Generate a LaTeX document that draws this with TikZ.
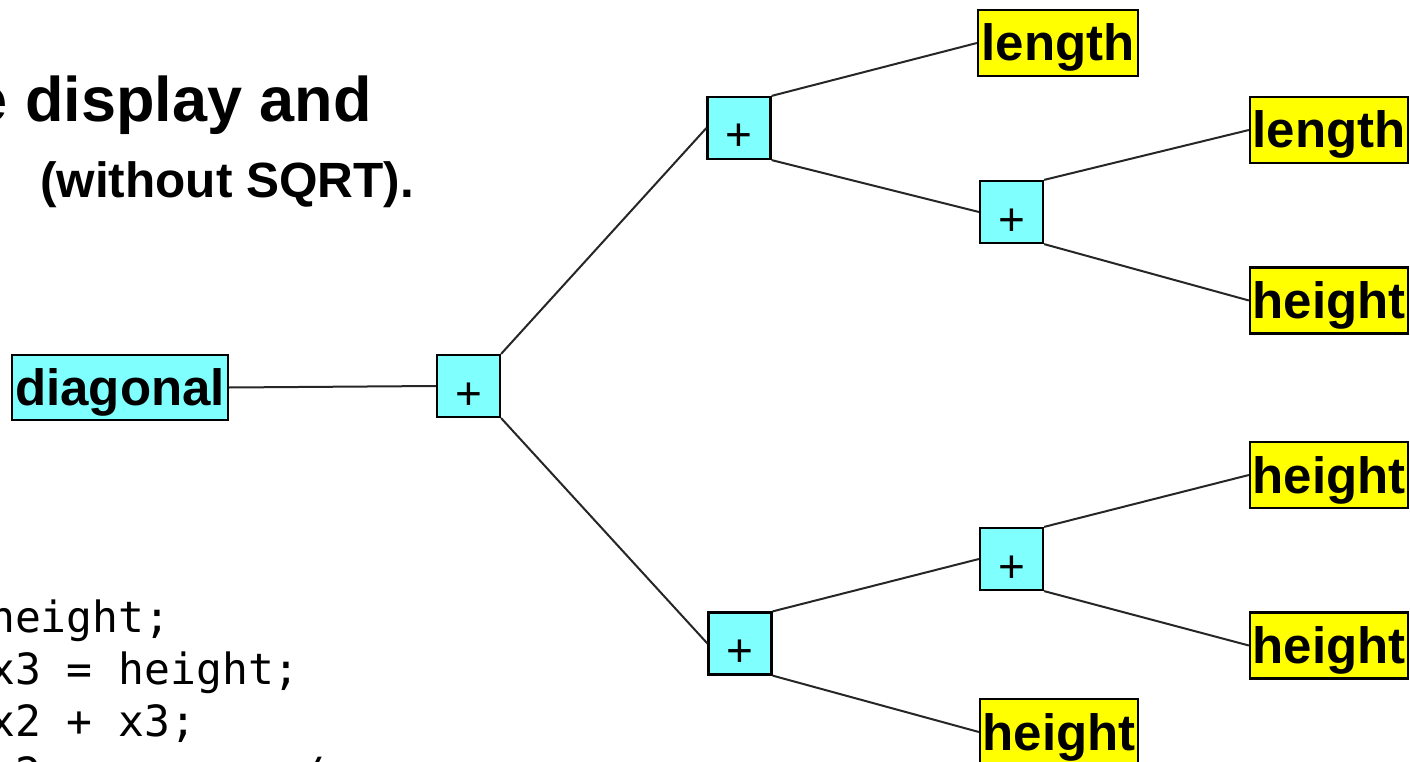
\documentclass[tikz,border=0pt]{standalone}
\usepackage{fontspec}
\setmainfont{Liberation Sans}
\newfontfamily\codefont{DejaVu Sans Mono}
\definecolor{opcyan}{HTML}{80FFFF}
\definecolor{leafyellow}{HTML}{FFFF00}
\tikzset{
  box/.style={draw=black, line width=2.2pt, inner sep=0pt, anchor=center},
  varbox/.style={box, fill=opcyan, minimum width=216pt, minimum height=65pt,
    font=\bfseries\fontsize{51}{51}\selectfont, text height=38pt, text depth=2pt},
  leafbox/.style={box, fill=leafyellow, minimum width=158pt, minimum height=66pt,
    font=\bfseries\fontsize{51}{51}\selectfont, text height=38pt, text depth=2pt},
  plusbox/.style={box, fill=opcyan, minimum width=63pt, minimum height=62pt,
    font=\fontsize{46}{46}\selectfont, text height=46pt, text depth=0pt},
  edge/.style={line width=2pt, draw=black!85},
  heading/.style={inner sep=0pt, font=\bfseries\fontsize{63}{63}\selectfont},
  subheading/.style={inner sep=0pt, font=\bfseries\fontsize{49.5}{49.5}\selectfont},
  code/.style={inner sep=0pt, anchor=base west, font=\codefont\fontsize{43}{43}\selectfont},
}
\begin{document}
\begin{tikzpicture}[x=1pt, y=-1pt]
\useasboundingbox[fill=white] (0,0) rectangle (1410,762);

% slide text
\node[heading, anchor=base east] (h1) at (372,122) {e display and};
\node[subheading, anchor=base west] (h2) at (40,197) {(without SQRT).};
\node[code] (c1) at (-11,632) {height;};
\node[code] (c2) at (-11,684) {x3 = height;};
\node[code] (c3) at (-11,736) {x2 + x3;};
\node[code] (c4) at (-11,788) {x2\ \ \ \ \ \ \ \ \ \ /};

% expression tree
\node[varbox] (diag) at (120,387.5) {diagonal};
\node[plusbox] (p1) at (468.5,386) {+};
\node[plusbox] (p2) at (739,128) {+};
\node[plusbox] (p3) at (740,643.5) {+};
\node[plusbox] (p4) at (1011.5,212) {+};
\node[plusbox] (p5) at (1011.5,559) {+};
\node[leafbox, minimum width=160pt] (len1) at (1058,43) {length};
\node[leafbox] (len2) at (1329,130) {length};
\node[leafbox] (hgt1) at (1329,300.5) {height};
\node[leafbox] (hgt2) at (1329,475) {height};
\node[leafbox] (hgt3) at (1329,645.5) {height};
\node[leafbox] (hgt4) at (1059,732) {height};

% branches
\draw[edge] (diag.east) -- (p1.west);
\draw[edge] (p1.north east) -- (p2.west);
\draw[edge] (p1.south east) -- (p3.west);
\draw[edge] (p2.north east) -- (len1.west);
\draw[edge] (p2.south east) -- (p4.west);
\draw[edge] (p4.north east) -- (len2.west);
\draw[edge] (p4.south east) -- (hgt1.west);
\draw[edge] (p3.north east) -- (p5.west);
\draw[edge] (p3.south east) -- (hgt4.west);
\draw[edge] (p5.north east) -- (hgt2.west);
\draw[edge] (p5.south east) -- (hgt3.west);
\end{tikzpicture}
\end{document}
